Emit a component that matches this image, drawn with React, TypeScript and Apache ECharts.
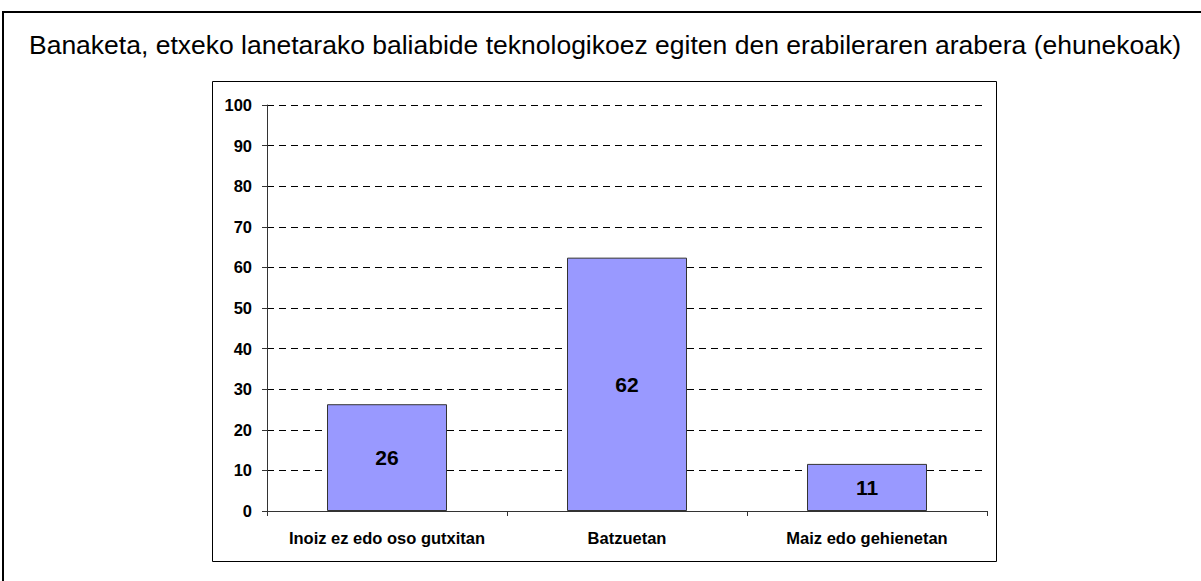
import React, { useEffect, useRef } from "react";
import * as echarts from "echarts";

const TITLE = "Banaketa, etxeko lanetarako baliabide teknologikoez egiten den erabileraren arabera (ehunekoak)";
const categories = ["Inoiz ez edo oso gutxitan", "Batzuetan", "Maiz edo gehienetan"];
const values = [26.3, 62.4, 11.6];
const labels = ["26", "62", "11"];

export default function App() {
  const ref = useRef<HTMLDivElement>(null);
  useEffect(() => {
    const chart = echarts.init(ref.current!, null, { renderer: "svg" });
    const font = "'Liberation Sans', Arial, sans-serif";
    chart.setOption({
      animation: false,
      backgroundColor: "#ffffff",
      graphic: [
        { type: "rect", shape: { x: 3, y: 12, width: 1250, height: 620 }, style: { fill: "none", stroke: "#000", lineWidth: 2 }, silent: true },
        { type: "rect", shape: { x: 212.5, y: 81.5, width: 784, height: 480 }, style: { fill: "none", stroke: "#000", lineWidth: 1 }, silent: true },
        { type: "text", x: 605, y: 45, style: { text: TITLE, font: `26.5px ${font}`, fill: "#000", align: "center", verticalAlign: "middle" }, silent: true },
      ],
      grid: { left: 267, right: 214, top: 105, bottom: 70, containLabel: false },
      xAxis: {
        type: "category",
        data: categories,
        axisLine: { lineStyle: { color: "#333", width: 1 } },
        axisTick: { show: true, alignWithLabel: false, interval: 0, length: 5, lineStyle: { color: "#333" } },
        axisLabel: { interval: 0, hideOverlap: false, fontFamily: font, fontWeight: "bold", fontSize: 16.5, color: "#000", margin: 18 },
        splitLine: { show: false },
      },
      yAxis: {
        type: "value",
        min: 0,
        max: 100,
        interval: 10,
        axisLine: { show: true, lineStyle: { color: "#333", width: 1 } },
        axisTick: { show: true, length: 5, lineStyle: { color: "#333" } },
        axisLabel: { fontFamily: font, fontWeight: "bold", fontSize: 16.5, color: "#000", margin: 15 },
        splitLine: { show: true, lineStyle: { color: "#000", type: [7, 5], width: 1 } },
      },
      series: [
        {
          type: "bar",
          data: values,
          barWidth: "50%",
          itemStyle: { color: "#9999FF", borderColor: "#333", borderWidth: 1 },
          label: {
            show: true,
            position: "inside",
            formatter: (p: any) => labels[p.dataIndex],
            fontFamily: font,
            fontWeight: "bold",
            fontSize: 21,
            color: "#000",
          },
        },
      ],
    });
    return () => chart.dispose();
  }, []);
  return <div ref={ref} style={{ position: "fixed", left: 0, top: 0, width: 1201, height: 581 }} />;
}
